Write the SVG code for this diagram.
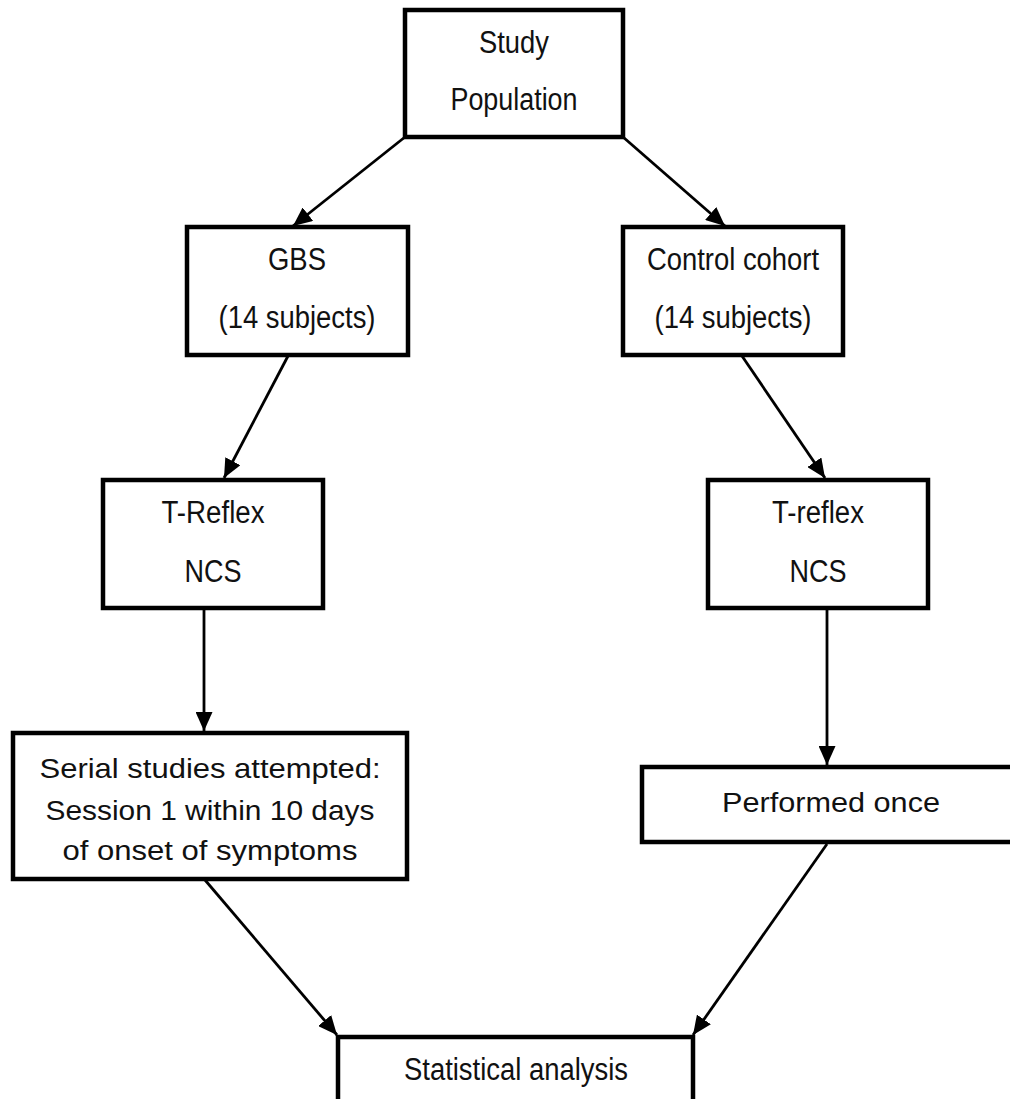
<svg xmlns="http://www.w3.org/2000/svg" width="1010" height="1099" viewBox="0 0 1010 1099">
<style>
.box{fill:#fff;stroke:#000;stroke-width:4.5}
.t{font-family:"Liberation Sans",Arial,sans-serif;font-size:31px;fill:#111;text-anchor:middle}
.c{font-family:"Liberation Sans",Arial,sans-serif;font-size:27.5px;fill:#111;text-anchor:middle}
.ln{stroke:#000;stroke-width:2.8;fill:none;marker-end:url(#ah)}
</style>
<defs>
<marker id="ah" markerUnits="userSpaceOnUse" markerWidth="19" markerHeight="17" viewBox="0 0 19 17" refX="19" refY="8.5" orient="auto">
<path d="M0,0 L19,8.5 L0,17 z" fill="#000"/>
</marker>
</defs>
<rect width="1010" height="1099" fill="#fff"/>
<g id="connectors">
<line class="ln" x1="405" y1="137" x2="293" y2="226"/>
<line class="ln" x1="623" y1="137" x2="725" y2="226"/>
<line class="ln" x1="288" y1="356" x2="224" y2="478"/>
<line class="ln" x1="204" y1="610" x2="204" y2="731"/>
<line class="ln" x1="742" y1="356" x2="825" y2="478"/>
<line class="ln" x1="827" y1="610" x2="827" y2="765"/>
<line class="ln" x1="205" y1="880" x2="337" y2="1035"/>
<line class="ln" x1="827" y1="844" x2="693" y2="1035"/>
</g>
<g id="study">
<rect class="box" x="405" y="10" width="218" height="127"/>
<text class="t" x="514" y="53" textLength="70" lengthAdjust="spacingAndGlyphs">Study</text>
<text class="t" x="514" y="110" textLength="127" lengthAdjust="spacingAndGlyphs">Population</text>
</g>
<g id="gbs">
<rect class="box" x="187" y="227" width="221" height="128"/>
<text class="t" x="297" y="270" textLength="58" lengthAdjust="spacingAndGlyphs">GBS</text>
<text class="t" x="297" y="328" textLength="157" lengthAdjust="spacingAndGlyphs">(14 subjects)</text>
</g>
<g id="control">
<rect class="box" x="623" y="227" width="220" height="128"/>
<text class="t" x="733" y="270" textLength="172" lengthAdjust="spacingAndGlyphs">Control cohort</text>
<text class="t" x="733" y="328" textLength="157" lengthAdjust="spacingAndGlyphs">(14 subjects)</text>
</g>
<g id="treflex-gbs">
<rect class="box" x="103" y="480" width="220" height="128"/>
<text class="t" x="213" y="523" textLength="103" lengthAdjust="spacingAndGlyphs">T-Reflex</text>
<text class="t" x="213" y="582" textLength="57" lengthAdjust="spacingAndGlyphs">NCS</text>
</g>
<g id="treflex-control">
<rect class="box" x="708" y="480" width="220" height="128"/>
<text class="t" x="818" y="523" textLength="92" lengthAdjust="spacingAndGlyphs">T-reflex</text>
<text class="t" x="818" y="582" textLength="57" lengthAdjust="spacingAndGlyphs">NCS</text>
</g>
<g id="serial">
<rect class="box" x="13" y="733" width="394" height="146"/>
<text class="c" x="210" y="778" textLength="341" lengthAdjust="spacingAndGlyphs">Serial studies attempted:</text>
<text class="c" x="210" y="820" textLength="329" lengthAdjust="spacingAndGlyphs">Session 1 within 10 days</text>
<text class="c" x="210" y="860" textLength="295" lengthAdjust="spacingAndGlyphs">of onset of symptoms</text>
</g>
<g id="performed">
<rect class="box" x="642" y="767" width="380" height="75"/>
<text class="c" x="831" y="812" textLength="218" lengthAdjust="spacingAndGlyphs">Performed once</text>
</g>
<g id="stats">
<rect class="box" x="338" y="1037" width="355" height="80"/>
<text class="t" x="516" y="1080" textLength="224" lengthAdjust="spacingAndGlyphs">Statistical analysis</text>
</g>
</svg>
